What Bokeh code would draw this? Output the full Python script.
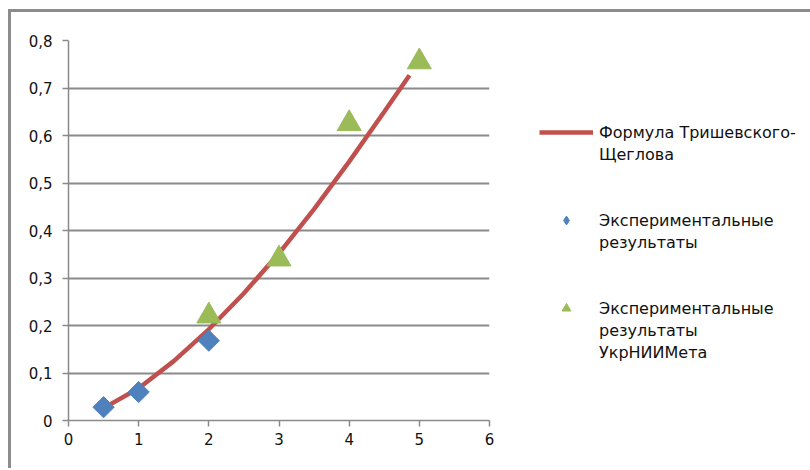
from bokeh.plotting import figure
from bokeh.models import (Range1d, FixedTicker, CustomJSTickFormatter, Legend, LegendItem)
from bokeh.embed import file_html
from bokeh.resources import INLINE
import math

# ---- data ----
formula_x = [0.5, 1.0, 1.5, 2.0, 2.5, 3.0, 3.5, 4.0, 4.5, 4.86]
formula_y = [0.026, 0.068, 0.125, 0.192, 0.268, 0.352, 0.445, 0.545, 0.650, 0.727]

exp_x = [0.5, 1.0, 2.0]
exp_y = [0.028, 0.06, 0.168]

ukr_x = [2.0, 3.0, 4.0, 5.0]
ukr_y = [0.22, 0.34, 0.625, 0.755]

x_ticks = [0, 1, 2, 3, 4, 5, 6]
y_ticks = [0, 0.1, 0.2, 0.3, 0.4, 0.5, 0.6, 0.7, 0.8]

label_formula = ["Формула Тришевского-", "Щеглова"]
label_exp = ["Экспериментальные", "результаты"]
label_ukr = ["Экспериментальные", "результаты", "УкрНИИМета"]

FONT = "DejaVu Sans"
GRID = "#8a8a8a"
RED, BLUE, GREEN = "#C0504D", "#4F81BD", "#9BBB59"

p = figure(output_backend="svg", toolbar_location=None,
           frame_width=421, frame_height=380,
           min_border_left=57, min_border_top=28, min_border_bottom=48,
           min_border_right=300,
           x_range=Range1d(0, 6), y_range=Range1d(0, 0.8))
p.styles = {"margin-left": "8px", "margin-top": "9px",
            "border-top": "3px solid #8c8c8c", "border-left": "3px solid #8c8c8c"}
p.outline_line_color = None
p.background_fill_color = "white"
p.border_fill_color = "white"

p.xgrid.grid_line_color = None
p.ygrid.grid_line_color = GRID
p.ygrid.grid_line_width = 2
p.ygrid.ticker = FixedTicker(ticks=y_ticks)

p.xaxis.ticker = FixedTicker(ticks=x_ticks)
p.yaxis.ticker = FixedTicker(ticks=y_ticks)
p.yaxis.formatter = CustomJSTickFormatter(
    code="return tick == 0 ? '0' : tick.toFixed(1).replace('.', ',');")

for ax in (p.xaxis[0], p.yaxis[0]):
    ax.axis_line_color = GRID
    ax.axis_line_width = 1.5
    ax.major_tick_line_color = GRID
    ax.major_tick_line_width = 1.5
    ax.major_tick_in = 0
    ax.major_tick_out = 6
    ax.minor_tick_line_color = None
    ax.major_label_text_font = FONT
    ax.major_label_text_font_size = "15px"
    ax.major_label_text_color = "#111111"
p.xaxis.major_label_standoff = 6
p.yaxis.major_label_standoff = 10

r_line = p.line(formula_x, formula_y, line_color=RED, line_width=4.5)
# diamond-shaped key for the legend, fully hidden under the plotted markers
r_exp_key = p.scatter(exp_x, exp_y, marker="diamond", size=15,
                      fill_color=BLUE, line_color=BLUE)
r_exp = p.scatter(exp_x, exp_y, marker="square", angle=math.pi / 4, size=15,
                  fill_color=BLUE, line_color=BLUE)
r_ukr = p.scatter(ukr_x, ukr_y, marker="triangle", size=24,
                  fill_color=GREEN, line_color=GREEN)

# invisible key for wrapped legend lines
r_blank = p.line([], [], line_alpha=0)

items = []
def add_group(lines, renderer):
    items.append(LegendItem(label=lines[0], renderers=[renderer]))
    for ln in lines[1:]:
        items.append(LegendItem(label=ln, renderers=[r_blank]))

def add_gap(n):
    for _ in range(n):
        items.append(LegendItem(label=" ", renderers=[r_blank]))

add_group(label_formula, r_line)
add_gap(2)
add_group(label_exp, r_exp_key)
add_gap(2)
add_group(label_ukr, r_ukr)

legend = Legend(items=items, location=(50, 57))
legend.label_text_font = FONT
legend.label_text_font_size = "16px"
legend.label_text_color = "#111111"
legend.glyph_width = 54
legend.glyph_height = 22
legend.label_height = 22
legend.label_standoff = 6
legend.spacing = 0
legend.padding = 0
legend.margin = 0
legend.border_line_alpha = 0
legend.background_fill_alpha = 0
p.add_layout(legend, "right")

open("out.html", "w").write(file_html(p, INLINE))
